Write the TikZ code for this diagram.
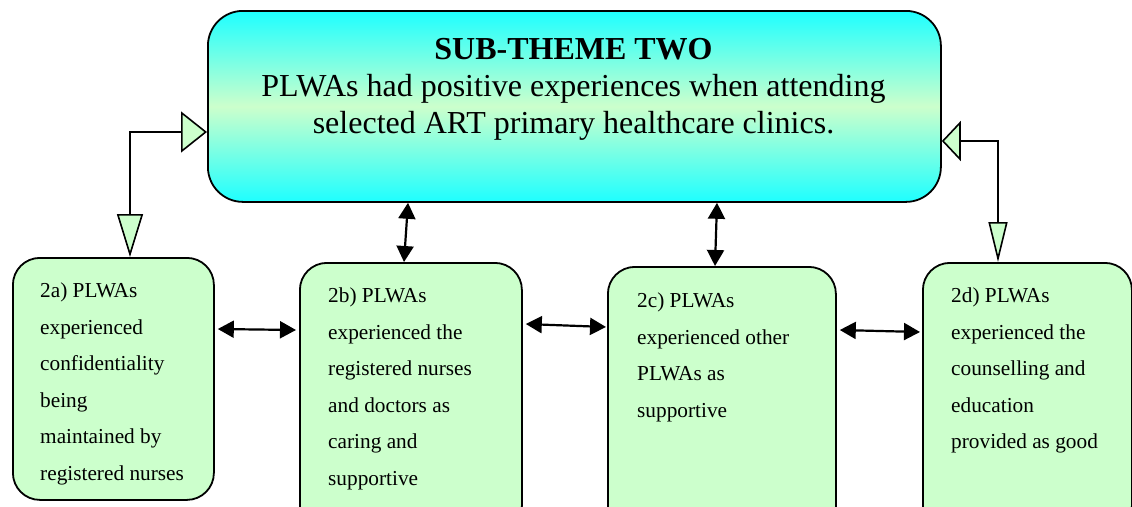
\documentclass[tikz,border=0pt]{standalone}
\usepackage{fontspec}
\setmainfont{Liberation Serif}
\usetikzlibrary{arrows.meta,calc}
\definecolor{lgreen}{RGB}{204,255,204}
\definecolor{cyanc}{RGB}{30,255,255}
\begin{document}
\begin{tikzpicture}[x=1pt,y=-1pt,
  subbox/.style={draw=black, line width=1.8pt, fill=lgreen, rounded corners=27pt, anchor=north west, inner sep=0pt},
  mainbox/.style={draw=black, line width=1.8pt, rounded corners=35pt, top color=cyanc, bottom color=cyanc, middle color=lgreen, anchor=north west, inner sep=0pt},
  subtext/.style={anchor=north west, inner sep=0pt, align=left, font=\fontsize{21.3}{36.6}\selectfont},
  maintext/.style={anchor=north, inner sep=0pt, align=center, font=\fontsize{32}{37}\selectfont},
  dbl/.style={line width=2.2pt, {Triangle[length=16pt,width=17pt]}-{Triangle[length=16pt,width=17pt]}},
  elbow/.style={line width=2.2pt},
]
\useasboundingbox (0,0) rectangle (1132,506);
\clip (0,0) rectangle (1132,506);

\node[mainbox, minimum width=733pt, minimum height=191pt] (main) at (207,10) {};
\node[maintext] (mtext) at (573.5,38) {\textbf{SUB-THEME TWO}\\PLWAs had positive experiences when attending\\selected ART primary healthcare clinics.};

\node[subbox, minimum width=201pt, minimum height=242pt] (a) at (12,257) {};
\node[subbox, minimum width=222pt, minimum height=270pt] (b) at (299,262) {};
\node[subbox, minimum width=228pt, minimum height=270pt] (c) at (607,266) {};
\node[subbox, minimum width=209pt, minimum height=270pt] (d) at (922,262) {};

\node[subtext] (atext) at (40,282.5) {2a) PLWAs\\experienced\\confidentiality\\being\\maintained by\\registered nurses};
\node[subtext] (btext) at (328,287.5) {2b) PLWAs\\experienced the\\registered nurses\\and doctors as\\caring and\\supportive};
\node[subtext] (ctext) at (637,292.5) {2c) PLWAs\\experienced other\\PLWAs as\\supportive};
\node[subtext] (dtext) at (951,287.5) {2d) PLWAs\\experienced the\\counselling and\\education\\provided as good};

% elbow connectors with open triangles
\draw[elbow, {Triangle[fill=lgreen, line width=1.6pt, length=43pt, width=26pt]}-{Triangle[fill=lgreen, line width=1.6pt, length=26pt, width=41pt]}]
  ($(a.north west)+(118,0)$) |- ($(main.north west)+(0,122)$);
\draw[elbow, {Triangle[fill=lgreen, line width=1.6pt, length=19pt, width=40pt]}-{Triangle[fill=lgreen, line width=1.6pt, length=40pt, width=19pt]}]
  ($(main.north east)+(0,131)$) -| ($(d.north west)+(76,0)$);

% double arrows
\draw[dbl] ($(a.north east)+(3,72)$) -- ($(b.north west)+(-3,68)$);
\draw[dbl] ($(b.north east)+(3,62)$) -- ($(c.north west)+(-1,61)$);
\draw[dbl] ($(c.north east)+(3,64)$) -- ($(d.north west)+(-2,70)$);
\draw[dbl] ($(main.south west)+(201,0)$) -- ($(b.north west)+(105,0)$);
\draw[dbl] ($(main.south west)+(510,0)$) -- ($(c.north west)+(108,0)$);
\end{tikzpicture}
\end{document}
